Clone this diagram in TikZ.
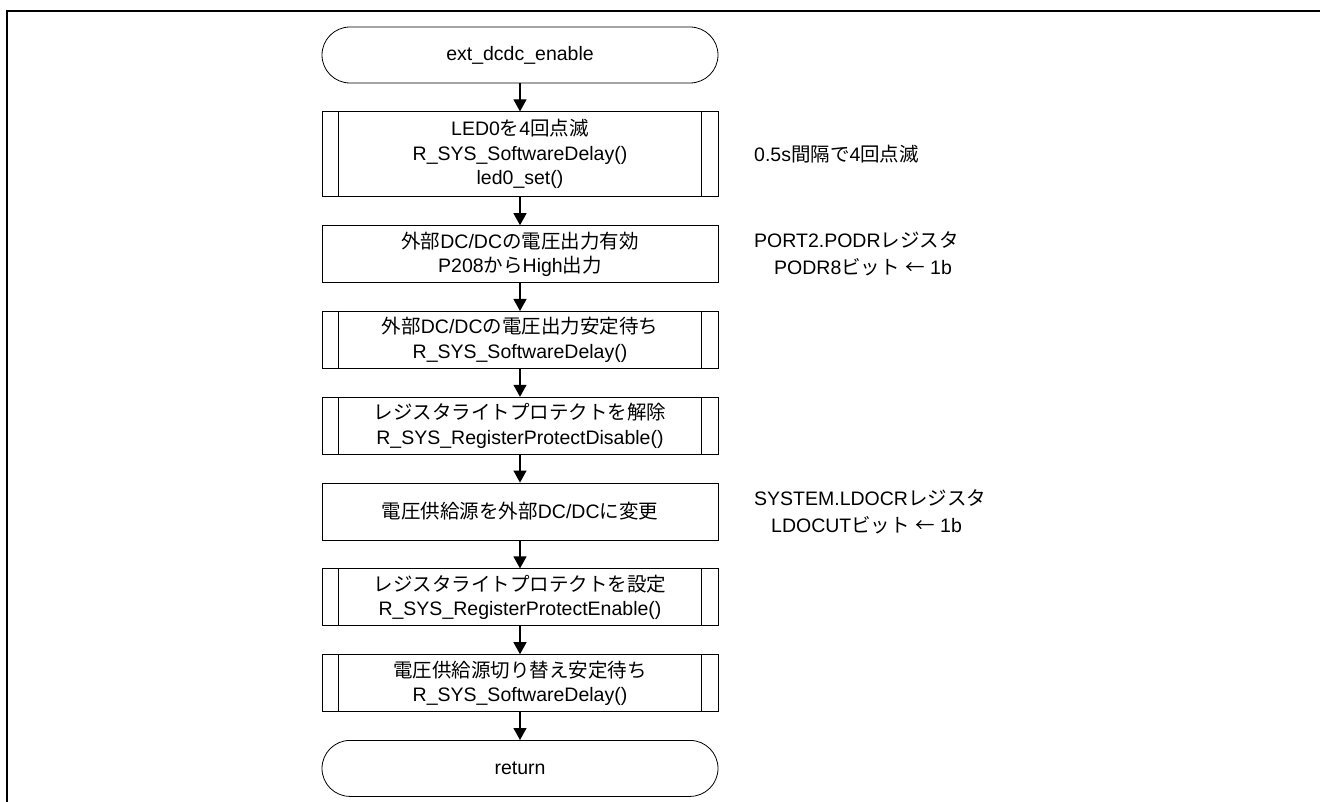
\documentclass[tikz,border=0pt]{standalone}
\usepackage{fontspec}
\setmainfont{Liberation Sans}
\newfontfamily\jpfont{Noto Sans CJK JP}
\newcommand{\jp}[1]{{\jpfont#1}}
\usetikzlibrary{positioning,arrows.meta}

\begin{document}
\begin{tikzpicture}[x=1pt,y=-1pt,
    node distance=28pt,
    every node/.style={font=\fontsize{19.5}{24.5}\selectfont},
    procbox/.style={draw,line width=0.8pt,minimum width=396pt,minimum height=57pt,
      align=center,inner sep=0pt},
    termbox/.style={procbox,rounded corners=28pt,minimum height=56pt},
    note/.style={anchor=west,align=left,inner sep=0pt,
      font=\fontsize{19.5}{27}\selectfont},
    flow/.style={line width=1.2pt,-{Triangle[length=12pt,width=13pt]}}]
  \useasboundingbox (0,0) rectangle (1320,802);
  \draw [line width=2pt] (7,812) -- (7,11) -- (1330,11);

  \node [termbox] (start) at (520,55) {ext\_dcdc\_enable};
  \node [procbox,minimum height=85pt,below=of start] (led)
    {LED0\jp{を}4\jp{回点滅}\\R\_SYS\_SoftwareDelay()\\led0\_set()};
  \node [procbox,below=of led] (out)
    {\jp{外部}DC/DC\jp{の電圧出力有効}\\P208\jp{から}High\jp{出力}};
  \node [procbox,below=of out] (wait)
    {\jp{外部}DC/DC\jp{の電圧出力安定待ち}\\R\_SYS\_SoftwareDelay()};
  \node [procbox,below=of wait] (unlock)
    {\jp{レジスタライトプロテクトを解除}\\R\_SYS\_RegisterProtectDisable()};
  \node [procbox,below=of unlock] (switch)
    {\jp{電圧供給源を外部}DC/DC\jp{に変更}};
  \node [procbox,below=of switch] (lock)
    {\jp{レジスタライトプロテクトを設定}\\R\_SYS\_RegisterProtectEnable()};
  \node [procbox,below=of lock] (settle)
    {\jp{電圧供給源切り替え安定待ち}\\R\_SYS\_SoftwareDelay()};
  \node [termbox,below=of settle] (ret) {return};

  % side bars of the predefined processes
  \foreach \n in {led,wait,unlock,lock,settle}{
    \draw [line width=0.8pt] ([xshift=17pt]\n.north west) -- ([xshift=17pt]\n.south west);
    \draw [line width=0.8pt] ([xshift=-17pt]\n.north east) -- ([xshift=-17pt]\n.south east);
  }
  \foreach \a/\b in {start/led,led/out,out/wait,wait/unlock,unlock/switch,
      switch/lock,lock/settle,settle/ret}
    \draw [flow] (\a) -- (\b);

  \coordinate (noteX) at (754,0);
  \node [note] (ledNote) at (noteX |- led) {0.5s\jp{間隔で}4\jp{回点滅}};
  \node [note] (outNote) at (noteX |- out)
    {PORT2.PODR\jp{レジスタ}\\\hspace*{20pt}PODR8\jp{ビット} \jp{←} 1b};
  \node [note] (switchNote) at (noteX |- switch)
    {SYSTEM.LDOCR\jp{レジスタ}\\\hspace*{17pt}LDOCUT\jp{ビット} \jp{←} 1b};
\end{tikzpicture}
\end{document}
